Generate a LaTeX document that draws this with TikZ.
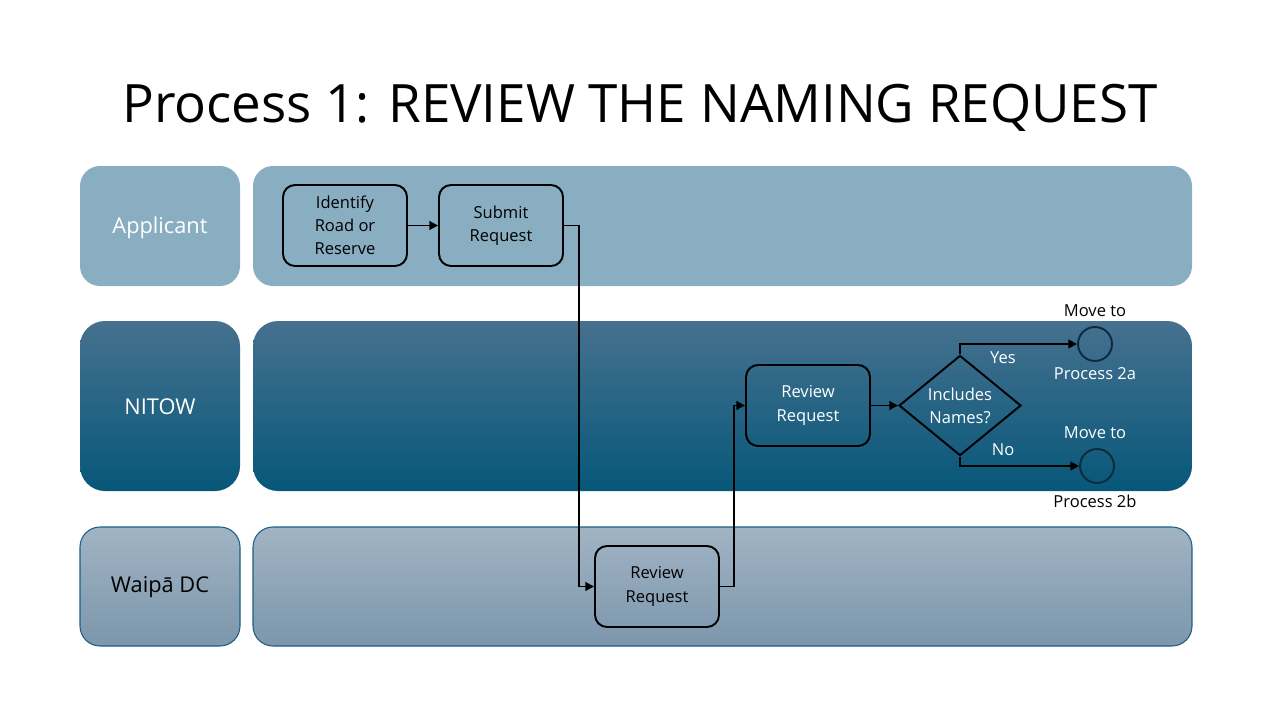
\documentclass[tikz,border=0pt]{standalone}
\usepackage{fontspec}
\setmainfont{Open Sans}
\usetikzlibrary{shapes.geometric,arrows.meta}
\definecolor{appfill}{HTML}{8AAEC1}
\definecolor{nitowtop}{HTML}{46718F}
\definecolor{nitowbot}{HTML}{075779}
\definecolor{waitop}{HTML}{A1B4C4}
\definecolor{waibot}{HTML}{7C96AC}
\definecolor{laneedge}{HTML}{1C5E83}
\definecolor{circedge}{HTML}{0D2B3D}
\tikzset{
  proc/.style={draw=black, line width=1.1pt, rounded corners=0.24cm, minimum width=2.48cm, minimum height=1.62cm, align=center, font=\fontsize{9.4}{13.2}\selectfont, inner sep=0pt},
  dec/.style={draw=black, line width=1.1pt, diamond, minimum width=2.44cm, minimum height=1.9cm, align=center, font=\fontsize{9.4}{13.2}\selectfont, inner sep=0pt, text=white},
  endc/.style={draw=circedge, line width=1.1pt, circle, minimum size=0.68cm, inner sep=0pt},
  lbl/.style={font=\fontsize{9.4}{12.8}\selectfont, inner sep=0pt},
  conn/.style={line width=1.1pt, -{Triangle[length=5pt,width=5pt]}},
  lanelbl/.style={font=\fontsize{12.4}{14}\selectfont}
}
\begin{document}
\begin{tikzpicture}[x=0.02cm,y=-0.02cm]
\useasboundingbox (0,0) rectangle (1280,720);
% title
\node[font=\fontsize{30.1}{36}\selectfont] (title) at (640,108) {Process 1: REVIEW THE NAMING REQUEST};
% lanes
\fill[appfill, rounded corners=0.4cm] (80,166) rectangle (240,286);
\fill[appfill, rounded corners=0.4cm] (253,166) rectangle (1192,286);
\shade[top color=nitowtop, bottom color=nitowbot, rounded corners=0.5cm] (80,321) rectangle (240,491);
\shade[top color=nitowtop, bottom color=nitowbot, rounded corners=0.5cm] (253,321) rectangle (1192,491);
\shade[top color=waitop, bottom color=waibot, rounded corners=0.4cm, draw=laneedge, line width=0.6pt] (80,527) rectangle (240,646);
\shade[top color=waitop, bottom color=waibot, rounded corners=0.4cm, draw=laneedge, line width=0.6pt] (253,527) rectangle (1192,646);
\node[lanelbl, text=white] (lapp) at (160,228) {Applicant};
\node[lanelbl, text=white] (lnit) at (160,407) {NITOW};
\node[lanelbl, text=black] (lwai) at (160,587) {Waipā DC};
% nodes
\node[proc] (ident) at (345,225.5) {Identify\\Road or\\Reserve};
\node[proc] (submit) at (501,225.5) {Submit\\Request};
\node[proc] (wrev) at (657,586.5) {Review\\Request};
\node[proc, text=white] (nrev) at (808,405.5) {Review\\Request};
\node[dec] (incl) at (960,405.5) {Includes\\Names?};
\node[endc] (c2a) at (1095,344) {};
\node[endc] (c2b) at (1097,466) {};
\node[lbl] (mt1) at (1095,311) {Move to};
\node[lbl, text=white] (p2a) at (1095,374) {Process 2a};
\node[lbl, text=white] (mt2) at (1095,433) {Move to};
\node[lbl] (p2b) at (1095,501) {Process 2b};
\node[lbl, text=white] (yes) at (1003,358) {Yes};
\node[lbl, text=white] (no) at (1003,450) {No};
% connectors
\draw[conn] (ident) -- (submit);
\draw[conn] (submit.east) -- ++(15,0) |- (wrev.west);
\draw[conn] (wrev.east) -- ++(14,0) |- (nrev.west);
\draw[conn] (nrev) -- (incl);
\draw[conn] (incl.north) |- (c2a.west);
\draw[conn] (incl.south) |- (c2b.west);
\end{tikzpicture}
\end{document}
